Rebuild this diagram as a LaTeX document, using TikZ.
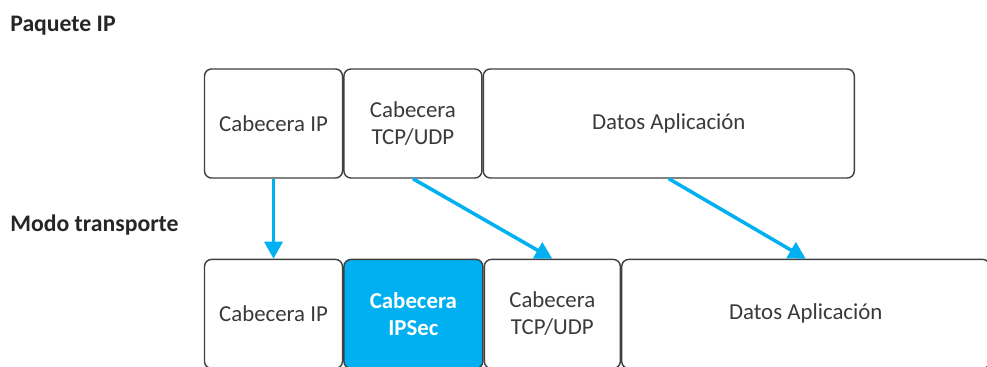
\documentclass[tikz,border=0pt]{standalone}
\usepackage{fontspec}
\setmainfont{Carlito}
\usepackage{xcolor}
\definecolor{lineDark}{HTML}{404040}
\definecolor{textDark}{HTML}{3A3A3A}
\definecolor{ipsecBlue}{HTML}{00B0F0}
\usetikzlibrary{positioning,calc,arrows.meta}
\tikzset{%
  fieldBox/.style={%
    rectangle,
    rounded corners=4pt,
    draw=lineDark,
    line width=0.8pt,
    fill=white,
    text=textDark,
    minimum height=2.18cm,
    inner sep=0pt,
    align=center,
    font=\fontsize{13}{15.5}\selectfont
  },
  ipsecBox/.style={%
    fieldBox,
    fill=ipsecBlue,
    text=white,
    font=\fontsize{13}{15.5}\selectfont\bfseries
  },
  rowLabel/.style={%
    anchor=base west,
    inner sep=0pt,
    text=black!85,
    font=\fontsize{13.5}{16}\selectfont\bfseries
  },
  moveArrow/.style={%
    -{Triangle[length=0.34cm,width=0.36cm]},
    line width=2pt,
    color=ipsecBlue
  }
}

\begin{document}
\begin{tikzpicture}
  \useasboundingbox (0,0) rectangle (19.74,-7.34);
  \clip (0,0) rectangle (19.74,-7.34);

  % paquete original
  \node[rowLabel] (lblPaquete) at (0.2,-0.64) {Paquete IP};
  \node[fieldBox, minimum width=2.76cm] (ipTop) at (5.47,-2.47) {Cabecera IP};
  \node[fieldBox, minimum width=2.76cm, right=0pt of ipTop] (tcpTop) {Cabecera\\TCP/UDP};
  \node[fieldBox, minimum width=7.42cm, right=0pt of tcpTop] (datosTop) {Datos Aplicación};

  % modo transporte
  \node[rowLabel] (lblModo) at (0.2,-4.64) {Modo transporte};
  \node[fieldBox, minimum width=2.76cm, below=1.6cm of ipTop] (ipBot) {Cabecera IP};
  \node[ipsecBox, minimum width=2.78cm, right=0pt of ipBot] (ipsecBot) {Cabecera\\IPSec};
  \node[fieldBox, minimum width=2.72cm, right=0pt of ipsecBot] (tcpBot) {Cabecera\\TCP/UDP};
  \node[fieldBox, minimum width=7.36cm, right=0pt of tcpBot] (datosBot) {Datos Aplicación};

  \draw[moveArrow] (ipTop.south) -- (ipBot.north);
  \draw[moveArrow] (tcpTop.south) -- (tcpBot.north);
  \draw[moveArrow] (datosTop.south) -- (datosBot.north);
\end{tikzpicture}
\end{document}
